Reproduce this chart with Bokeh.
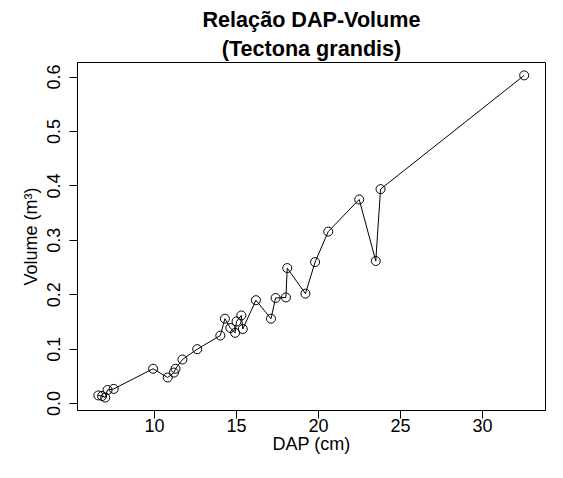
from bokeh.plotting import figure
from bokeh.models import Range1d, FixedTicker, Title, ColumnDataSource
from bokeh.embed import file_html
from bokeh.resources import INLINE

# DAP (cm) and Volume (m3)
dap = [6.57, 6.80, 6.99, 7.13, 7.51, 9.91, 10.80, 11.18, 11.28, 11.70,
       12.60, 14.01, 14.29, 14.62, 14.91, 15.00, 15.29, 15.38, 16.18, 17.10,
       17.38, 18.01, 18.09, 19.20, 19.79, 20.59, 22.48, 23.49, 23.78, 32.54]
vol = [0.015, 0.014, 0.011, 0.025, 0.027, 0.064, 0.048, 0.057, 0.064, 0.081,
       0.100, 0.125, 0.156, 0.139, 0.130, 0.151, 0.162, 0.137, 0.190, 0.156,
       0.194, 0.195, 0.249, 0.202, 0.260, 0.316, 0.375, 0.262, 0.394, 0.603]

x_ticks = [10, 15, 20, 25, 30]
y_ticks = [0.0, 0.1, 0.2, 0.3, 0.4, 0.5, 0.6]
y_tick_labels = ["0.0", "0.1", "0.2", "0.3", "0.4", "0.5", "0.6"]

title_line1 = "Relação DAP-Volume"
title_line2 = "(Tectona grandis)"
x_label = "DAP (cm)"
y_label = "Volume (m³)"

FONT = "Liberation Sans"

# axis limits as seen in the reference
x_lim = (5.30, 33.84)
ymin, ymax = min(vol), max(vol)
ypad = 0.04 * (ymax - ymin)

src = ColumnDataSource(data=dict(x=dap, y=vol))

p = figure(width=563, height=478, output_backend="svg", toolbar_location=None,
           x_range=Range1d(*x_lim),
           y_range=Range1d(ymin - ypad, ymax + ypad),
           min_border_left=77, min_border_right=18, min_border_top=62,
           min_border_bottom=68)

p.background_fill_color = "white"
p.border_fill_color = "white"
p.outline_line_color = "black"
p.outline_line_width = 1
p.xgrid.visible = False
p.ygrid.visible = False

# titles
t2 = Title(text=title_line2, align="center", text_font=FONT,
           text_font_size="21.6px", text_font_style="bold", standoff=4,
           text_color="black")
p.add_layout(t2, "above")
p.title.text = title_line1
p.title.align = "center"
p.title.text_font = FONT
p.title.text_font_size = "21.6px"
p.title.text_font_style = "bold"
p.title.text_color = "black"
p.title.standoff = 0

xax = p.below[0]
yax = p.left[0]
for ax in (xax, yax):
    ax.axis_line_color = "black"
    ax.axis_line_width = 1
    ax.major_tick_line_color = "black"
    ax.major_tick_out = 8
    ax.major_tick_in = 0
    ax.minor_tick_line_color = None
    ax.major_label_text_font = FONT
    ax.major_label_text_font_size = "18px"
    ax.major_label_text_color = "black"
    ax.axis_label_text_font = FONT
    ax.axis_label_text_font_size = "18px"
    ax.axis_label_text_font_style = "normal"
    ax.axis_label_text_color = "black"

xax.ticker = FixedTicker(ticks=x_ticks)
xax.axis_label = x_label
xax.major_label_standoff = 0
xax.axis_label_standoff = -1

yax.ticker = FixedTicker(ticks=y_ticks)
yax.major_label_overrides = {t: l for t, l in zip(y_ticks, y_tick_labels)}
yax.major_label_orientation = "vertical"
yax.axis_label = y_label
yax.major_label_standoff = 9
yax.axis_label_standoff = 4

p.line("x", "y", source=src, line_color="black", line_width=1)
p.scatter("x", "y", source=src, marker="circle", size=9, fill_color=None,
          line_color="black", line_width=1)

open("out.html", "w").write(file_html(p, INLINE))
